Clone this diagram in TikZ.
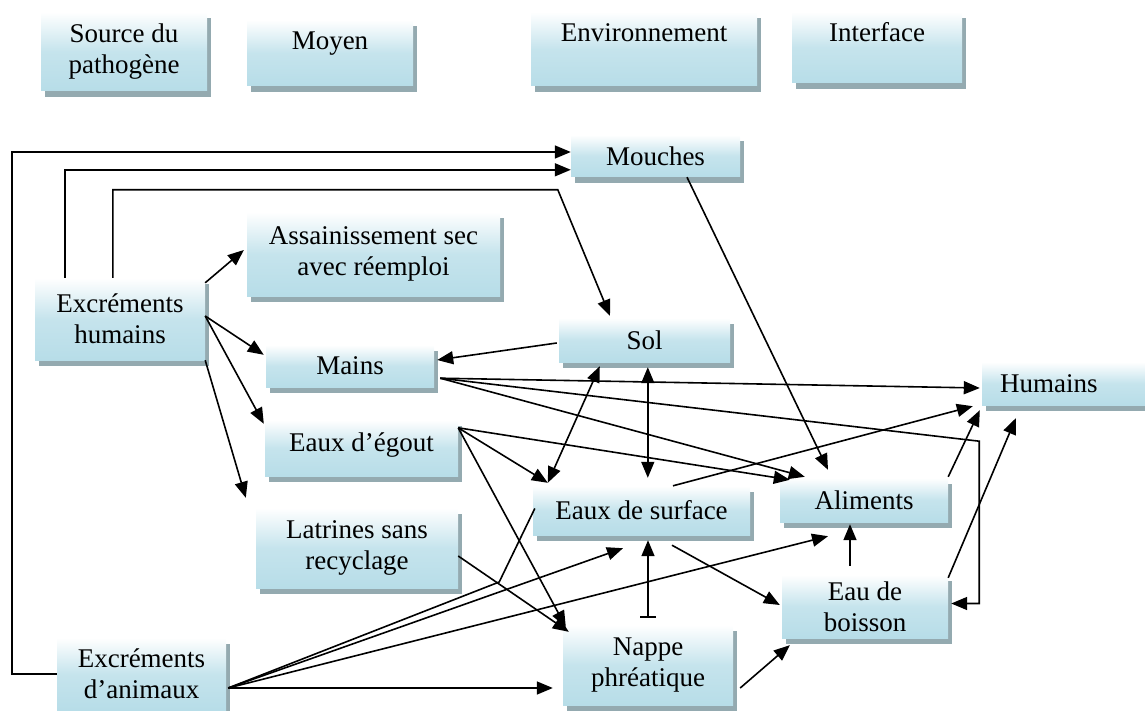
\documentclass[tikz,border=0pt]{standalone}
\usepackage{fontspec}
\setmainfont{Liberation Serif}
\usetikzlibrary{arrows.meta,shadows}
\definecolor{boxblue}{RGB}{183,221,232}
\definecolor{shadowgrey}{RGB}{148,170,176}
\tikzset{
  tbox/.style={top color=white,bottom color=boxblue,middle color=boxblue!80!white,
    inner sep=0pt,font=\fontsize{27}{31}\selectfont,
    drop shadow={shadow xshift=4pt,shadow yshift=-6pt,fill=shadowgrey,opacity=1}},
  fl/.style={line width=1.6pt,-{Triangle[length=16pt,width=13pt]}},
  dfl/.style={line width=1.6pt,{Triangle[length=16pt,width=13pt]}-{Triangle[length=16pt,width=13pt]}},
  bfl/.style={line width=1.6pt,{Bar[width=16pt]}-{Triangle[length=16pt,width=13pt]}},
}
\begin{document}
\begin{tikzpicture}[x=1pt,y=-1pt]
\useasboundingbox (0,0) rectangle (1145,711);
% legende
\node[tbox,align=center,minimum width=166pt,minimum height=79pt] (src) at (124,51.5) {Source du\\pathogène};
\node[tbox,minimum width=166pt,minimum height=66pt,text height=19pt,text depth=25pt] (moyen) at (330,53) {Moyen};
\node[tbox,minimum width=226pt,minimum height=74pt,text height=19pt,text depth=33pt] (env) at (644,49) {Environnement};
\node[tbox,minimum width=170pt,minimum height=71pt,text height=19pt,text depth=30pt] (intf) at (877,47.5) {Interface};
% boites
\node[tbox,minimum width=169pt,minimum height=42pt] (mouches) at (655.5,156) {Mouches};
\node[tbox,align=center,minimum width=253pt,minimum height=84pt] (assain) at (373.5,254) {Assainissement sec\\avec réemploi};
\node[tbox,align=center,minimum width=170pt,minimum height=82pt] (eh) at (120,319) {Excréments\\humains};
\node[tbox,minimum width=168pt,minimum height=42pt] (mains) at (350,366) {Mains};
\node[tbox,minimum width=171pt,minimum height=44pt] (sol) at (644.5,340) {Sol};
\node[tbox,minimum width=178pt,minimum height=43pt,text width=142pt,inner xsep=18pt,align=left] (humains) at (1071,383.5) {Humains};
\node[tbox,minimum width=193pt,minimum height=56pt,text height=19pt,text depth=13pt] (egout) at (361.5,448) {Eaux d’égout};
\node[tbox,minimum width=217pt,minimum height=49pt] (surface) at (641.5,510.5) {Eaux de surface};
\node[tbox,minimum width=168pt,minimum height=44pt] (aliments) at (864,500) {Aliments};
\node[tbox,align=center,minimum width=202pt,minimum height=80pt] (latrines) at (357,548) {Latrines sans\\recyclage};
\node[tbox,align=center,minimum width=166pt,minimum height=63pt] (boisson) at (865,606.5) {Eau de\\boisson};
\node[tbox,align=center,minimum width=170pt,minimum height=80pt] (nappe) at (648,665) {Nappe\\phréatique};
\node[tbox,align=center,minimum width=169pt,minimum height=72pt] (ea) at (141.5,674) {Excréments\\d’animaux};
% fleches
\draw[fl] ([shift={(30,0)}]eh.north west) |- ([shift={(0,35)}]mouches.north west);
\draw[fl] (ea.west) -- ++(-45,0) |- ([shift={(0,-4)}]mouches.west);
\draw[fl] ([shift={(78,0)}]eh.north west) |- ([shift={(-1,-128)}]sol.north west) -- ([shift={(-34.5,-2)}]sol.north);
\draw[fl] ([shift={(0,5)}]eh.north east) -- ([shift={(-3,-4)}]assain.west);
\draw[fl] ([shift={(0,-3)}]eh.east) -- ([shift={(-2,10)}]mains.north west);
\draw[fl] ([shift={(0,-3)}]eh.east) -- ([shift={(-1,4)}]egout.north west);
\draw[fl] (eh.south east) -- ([shift={(-10,-10)}]latrines.north west);
\draw[fl] ([shift={(-2,3)}]sol.west) -- ([shift={(3,-6)}]mains.east);
\draw[dfl] ([shift={(41,4)}]sol.south west) -- ([shift={(15,-3)}]surface.north west);
\draw[dfl] ([shift={(89,5)}]sol.south west) -- ([shift={(115,-8)}]surface.north west);
\draw[fl] ([shift={(6,-9)}]mains.south east) -- ([shift={(-2,4.5)}]humains.west);
\draw[fl] ([shift={(6,-9)}]mains.south east) -- ([shift={(25,-1)}]aliments.north west);
\draw[fl] ([shift={(6,-9)}]mains.south east) -- ++(539,63) |- ([shift={(3,-3)}]boisson.east);
\draw[fl] ([shift={(0,8)}]egout.north east) -- ([shift={(10,2)}]aliments.north west);
\draw[fl] ([shift={(0,8)}]egout.north east) -- ([shift={(15,-3)}]surface.north west);
\draw[fl] ([shift={(0,8)}]egout.north east) -- ([shift={(3,2)}]nappe.north west);
\draw[fl] ([shift={(0,8)}]latrines.east) -- ([shift={(6,7)}]nappe.north west);
\draw[fl] ([shift={(2,14)}]ea.east) -- ([shift={(-10,23)}]nappe.west);
\draw[fl] ([shift={(2,14)}]ea.east) -- ([shift={(-18.5,13)}]surface.south);
\draw[fl] ([shift={(2,14)}]ea.east) -- ([shift={(-36,14)}]aliments.south);
\draw[line width=1.6pt] ([shift={(2,14)}]ea.east) -- ++(271,-106) -- ([shift={(2,-2)}]surface.west);
\draw[fl] ([shift={(31.5,0)}]surface.north) -- ([shift={(-9,1)}]humains.south west);
\draw[fl] ([shift={(30.5,10)}]surface.south) -- ([shift={(-2,-1.5)}]boisson.west);
\draw[bfl] ([shift={(0,-7)}]nappe.north) -- ([shift={(6.5,5)}]surface.south);
\draw[fl] ([shift={(7,23)}]nappe.east) -- ([shift={(8,7)}]boisson.south west);
\draw[fl] ([shift={(-15,-9)}]boisson.north) -- ([shift={(-14,2)}]aliments.south);
\draw[fl] ([shift={(0,3)}]boisson.north east) -- ([shift={(34,13)}]humains.south west);
\draw[fl] ([shift={(0,-1)}]aliments.north east) -- ([shift={(-2,5)}]humains.south west);
\draw[fl] ([shift={(31.5,0)}]mouches.south) -- ([shift={(-36,-8)}]aliments.north);
\end{tikzpicture}
\end{document}
